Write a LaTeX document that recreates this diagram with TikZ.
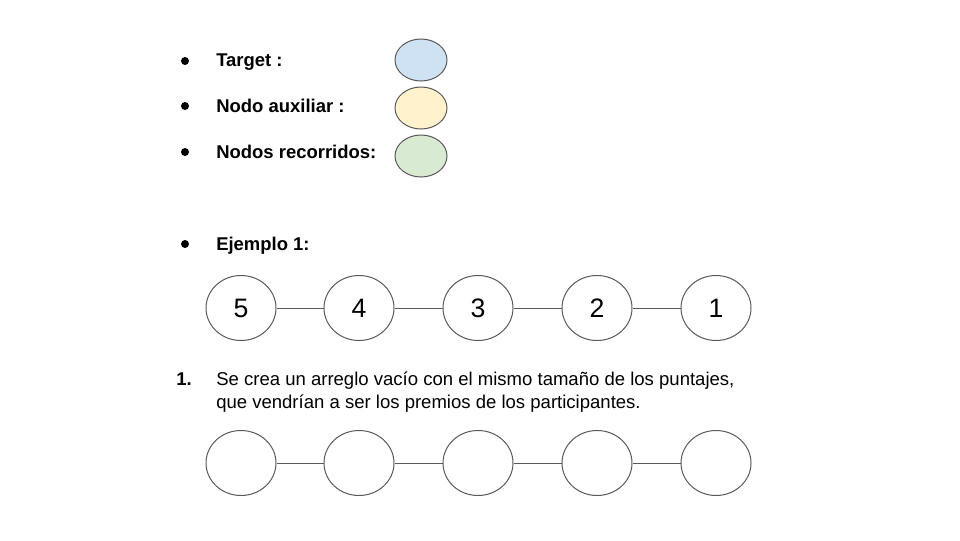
\documentclass[tikz,border=0pt]{standalone}
\usepackage{fontspec}
\setmainfont{Liberation Sans}
\usetikzlibrary{shapes.geometric}
\definecolor{edgegray}{HTML}{595959}
\definecolor{lblue}{HTML}{CFE2F3}
\definecolor{lyellow}{HTML}{FFF2CC}
\definecolor{lgreen}{HTML}{D9EAD3}
\tikzset{
  legendell/.style={ellipse, draw=edgegray, line width=0.75pt, minimum width=39pt, minimum height=31.5pt, inner sep=0pt},
  listnode/.style={ellipse, draw=edgegray, line width=0.75pt, minimum width=52.5pt, minimum height=48.75pt, inner sep=0pt, font=\fontsize{20pt}{24pt}\selectfont},
  link/.style={draw=edgegray, line width=0.75pt},
  label/.style={anchor=base west, inner sep=0pt, font=\fontsize{13.85pt}{16pt}\selectfont\bfseries},
  plain/.style={anchor=base west, inner sep=0pt, font=\fontsize{13.9pt}{16pt}\selectfont},
  bulletdot/.style={circle, fill=black, inner sep=0pt, minimum size=6pt}
}
\begin{document}
\begin{tikzpicture}[x=0.75pt,y=-0.75pt]
\useasboundingbox (0,0) rectangle (960,540);
% legend
\node[bulletdot] (b1) at (185,61) {};
\node[bulletdot] (b2) at (185,106) {};
\node[bulletdot] (b3) at (185,152) {};
\node[label] (t1) at (216,66) {Target :};
\node[label] (t2) at (216,112) {Nodo auxiliar :};
\node[label] (t3) at (216,158) {Nodos recorridos:};
\node[legendell, fill=lblue] (e1) at (421,60) {};
\node[legendell, fill=lyellow] (e2) at (421,108) {};
\node[legendell, fill=lgreen] (e3) at (421,156) {};
% example
\node[bulletdot] (b4) at (185,244) {};
\node[label] (t4) at (216,250) {Ejemplo 1:};
\node[listnode] (a1) at (241,308) {5};
\node[listnode] (a2) at (359,308) {4};
\node[listnode] (a3) at (478,308) {3};
\node[listnode] (a4) at (597,308) {2};
\node[listnode] (a5) at (716,308) {1};
\draw[link] (a1) -- (a2);
\draw[link] (a2) -- (a3);
\draw[link] (a3) -- (a4);
\draw[link] (a4) -- (a5);
% step 1
\node[label] (n1) at (176,385) {1.};
\node[plain] (s1) at (216,385) {Se crea un arreglo vacío con el mismo tamaño de los puntajes,};
\node[plain] (s2) at (216,408) {que vendrían a ser los premios de los participantes.};
\node[listnode] (c1) at (241,463) {};
\node[listnode] (c2) at (359,463) {};
\node[listnode] (c3) at (478,463) {};
\node[listnode] (c4) at (597,463) {};
\node[listnode] (c5) at (716,463) {};
\draw[link] (c1) -- (c2);
\draw[link] (c2) -- (c3);
\draw[link] (c3) -- (c4);
\draw[link] (c4) -- (c5);
\end{tikzpicture}
\end{document}
